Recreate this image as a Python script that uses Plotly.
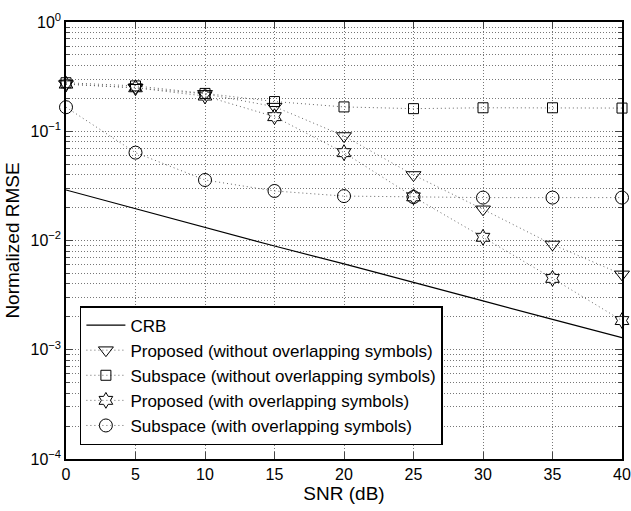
import plotly.graph_objects as go

snr = [0, 5, 10, 15, 20, 25, 30, 35, 40]
crb = [0.029, 0.0196, 0.0131, 0.0089, 0.0061, 0.0041, 0.0028, 0.0019, 0.00129]
prop_without = [0.27, 0.25, 0.22, 0.168, 0.0905, 0.0398, 0.0193, 0.0092, 0.0049]
sub_without = [0.278, 0.26, 0.222, 0.187, 0.167, 0.161, 0.164, 0.164, 0.163]
prop_with = [0.27, 0.25, 0.21, 0.136, 0.0637, 0.0251, 0.0107, 0.0045, 0.00185]
sub_with = [0.166, 0.0637, 0.0358, 0.0284, 0.0255, 0.025, 0.0247, 0.0247, 0.0247]

names = ["CRB",
         "Proposed (without overlapping symbols)",
         "Subspace (without overlapping symbols)",
         "Proposed (with overlapping symbols)",
         "Subspace (with overlapping symbols)"]

ytickvals = [1e-4, 1e-3, 1e-2, 1e-1, 1]
yticktext = ["10<sup>\u22124</sup>", "10<sup>\u22123</sup>", "10<sup>\u22122</sup>",
             "10<sup>\u22121</sup>", "10<sup>0</sup>"]
xtickvals = [0, 5, 10, 15, 20, 25, 30, 35, 40]

yminor = [m * 10 ** e for e in range(-4, 0) for m in range(2, 10)]

fig = go.Figure()
fig.add_trace(go.Scatter(x=snr, y=crb, mode="lines", name=names[0],
                         line=dict(color="black", width=1.2)))

dot = dict(color="#666666", width=1, dash="1px,3px")
series = [(prop_without, "triangle-down-open", 13, names[1]),
          (sub_without, "square-open", 10, names[2]),
          (prop_with, "hexagram-open", 12, names[3]),
          (sub_with, "circle-open", 13, names[4])]
for ys, sym, sz, nm in series:
    fig.add_trace(go.Scatter(x=snr, y=ys, mode="lines+markers", name=nm,
                             line=dot,
                             marker=dict(symbol=sym, size=sz, color="black",
                                         line=dict(color="black", width=1)),
                             cliponaxis=False))

grid = dict(showgrid=True, gridcolor="#777777", griddash="1px,2px", gridwidth=1)

fig.update_layout(
    width=631, height=511,
    margin=dict(l=66, r=9, t=22, b=52, autoexpand=False),
    paper_bgcolor="white", plot_bgcolor="white",
    font=dict(family="Liberation Sans, Arial, sans-serif", size=16, color="black"),
    showlegend=True,
    legend=dict(x=0.025, y=0.032, xanchor="left", yanchor="bottom",
                bgcolor="white", bordercolor="black", borderwidth=1.5,
                font=dict(size=17), tracegroupgap=0, itemwidth=39),
)
fig.update_xaxes(
    range=[0, 40], tickvals=xtickvals, ticks="inside", ticklen=7,
    showline=True, linecolor="black", linewidth=1.5, mirror="allticks",
    zeroline=False, automargin=False,
    title=dict(text="SNR (dB)", standoff=4),
    tickfont=dict(size=16), **grid,
)
fig.update_yaxes(
    type="log", range=[-4, 0], tickvals=ytickvals, ticktext=yticktext,
    ticks="inside", ticklen=7,
    showline=True, linecolor="black", linewidth=1.5, mirror="allticks",
    zeroline=False, automargin=False,
    title=dict(text="Normalized RMSE", standoff=6),
    tickfont=dict(size=16), **grid,
    minor=dict(tickvals=yminor, ticks="inside", ticklen=4, **grid),
)

fig.write_html("out.html", config={"displayModeBar": False},
               post_script="document.body.style.margin='0';document.body.style.overflow='hidden';")
